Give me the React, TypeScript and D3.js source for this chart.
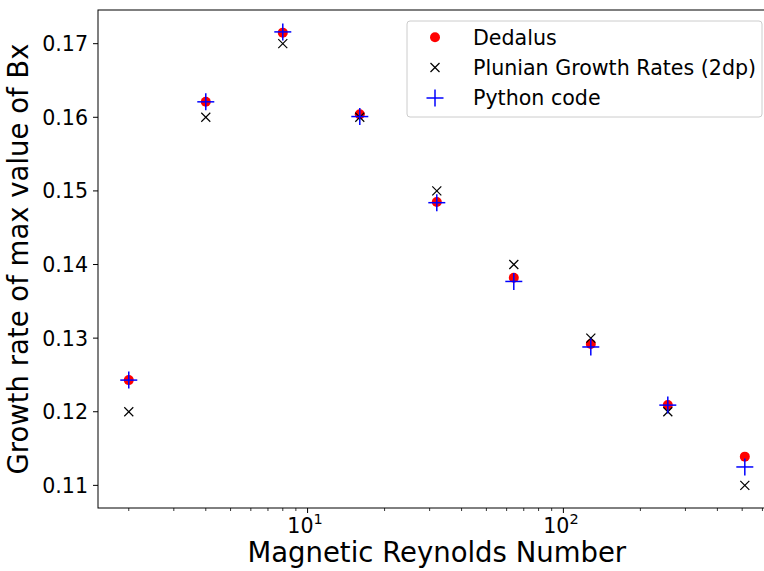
import React from "react";
import * as d3 from "d3";

const rm: number[] = [2, 4, 8, 16, 32, 64, 128, 256, 512];
const dedalus: number[] = [0.1243, 0.1621, 0.1715, 0.1604, 0.1485, 0.1382, 0.1292, 0.1209, 0.1139];
const plunian: number[] = [0.12, 0.16, 0.17, 0.16, 0.15, 0.14, 0.13, 0.12, 0.11];
const python: number[] = [0.1243, 0.1621, 0.1716, 0.1601, 0.1484, 0.1377, 0.1288, 0.1209, 0.1125];
const yTicks: number[] = [0.11, 0.12, 0.13, 0.14, 0.15, 0.16, 0.17];
const xMajor: number[] = [10, 100];
const legendLabels: string[] = ["Dedalus", "Plunian Growth Rates (2dp)", "Python code"];

const W = 764;
const H = 571;
const L = 98, R = 775.6, T = 10, B = 508;
const FONT = "DejaVu Sans, sans-serif";
const TICK_FS = 20.6;
const LABEL_FS = 27.5;

export default function App() {
  const x = d3.scaleLog().domain([1.516, 675.5]).range([L, R]);
  const y = d3.scaleLinear().domain([0.106925, 0.174575]).range([B, T]);
  const [d0, d1] = x.domain();
  const minor: number[] = [];
  for (let e = 0; e <= 2; e++) {
    for (let m = 2; m <= 9; m++) {
      const v = m * Math.pow(10, e);
      if (v >= d0 && v <= d1) minor.push(v);
    }
  }
  const plus = (cx: number, cy: number, s: number, key: string) => (
    <g key={key} stroke="#0000ff" strokeWidth={1.5}>
      <line x1={cx - s} x2={cx + s} y1={cy} y2={cy} />
      <line x1={cx} x2={cx} y1={cy - s} y2={cy + s} />
    </g>
  );
  const cross = (cx: number, cy: number, s: number, key: string) => (
    <g key={key} stroke="#000" strokeWidth={1.2}>
      <line x1={cx - s} x2={cx + s} y1={cy - s} y2={cy + s} />
      <line x1={cx - s} x2={cx + s} y1={cy + s} y2={cy - s} />
    </g>
  );
  const legX = 407, legY = 21;
  const rowY = [37.3, 67.5, 98];
  return (
    <svg width={W} height={H} style={{ position: "absolute", left: 0, top: 0, background: "#fff" }} fontFamily={FONT}>
      <rect x={0} y={0} width={W} height={H} fill="#fff" />
      {/* data */}
      {rm.map((r, i) => (
        <circle key={"d" + i} cx={x(r)} cy={y(dedalus[i])} r={5} fill="#ff0000" />
      ))}
      {rm.map((r, i) => cross(x(r), y(plunian[i]), 4.5, "p" + i))}
      {rm.map((r, i) => plus(x(r), y(python[i]), 8.5, "q" + i))}
      {/* spines */}
      <rect x={L} y={T} width={R - L} height={B - T} fill="none" stroke="#000" strokeWidth={1} />
      {/* y ticks */}
      {yTicks.map((t) => (
        <g key={"y" + t}>
          <line x1={L - 5} x2={L} y1={y(t)} y2={y(t)} stroke="#000" strokeWidth={1} />
          <text x={L - 10} y={y(t)} dy="0.36em" textAnchor="end" fontSize={TICK_FS} fill="#000">
            {t.toFixed(2)}
          </text>
        </g>
      ))}
      {/* x ticks */}
      {minor.map((t) => (
        <line key={"m" + t} x1={x(t)} x2={x(t)} y1={B} y2={B + 3} stroke="#000" strokeWidth={0.8} />
      ))}
      {xMajor.map((t) => (
        <g key={"x" + t}>
          <line x1={x(t)} x2={x(t)} y1={B} y2={B + 5} stroke="#000" strokeWidth={1} />
          <text x={x(t) + 6} y={533} textAnchor="end" fontSize={TICK_FS} fill="#000">
            10
          </text>
          <text x={x(t) + 6} y={524} textAnchor="start" fontSize={14.5} fill="#000">
            {Math.round(Math.log10(t))}
          </text>
        </g>
      ))}
      {/* axis labels */}
      <text x={(L + R) / 2} y={562} textAnchor="middle" fontSize={LABEL_FS} fill="#000">
        Magnetic Reynolds Number
      </text>
      <text transform={`translate(28,${(T + B) / 2}) rotate(-90)`} textAnchor="middle" fontSize={LABEL_FS} fill="#000">
        Growth rate of max value of Bx
      </text>
      {/* legend */}
      <rect x={legX} y={legY} width={355} height={96} rx={3} fill="#fff" fillOpacity={0.8} stroke="#cccccc" strokeWidth={1} />
      <circle cx={435} cy={rowY[0]} r={5} fill="#ff0000" />
      {cross(435, rowY[1], 4.5, "lc")}
      {plus(435, rowY[2], 8.5, "lp")}
      {legendLabels.map((s, i) => (
        <text key={s} x={473} y={rowY[i]} dy="0.36em" fontSize={TICK_FS} fill="#000">
          {s}
        </text>
      ))}
    </svg>
  );
}
